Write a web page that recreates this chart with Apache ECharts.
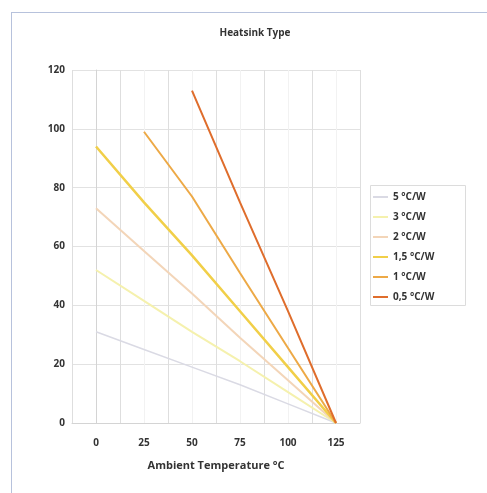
<!DOCTYPE html>
<html>
<head>
<meta charset="utf-8">
<script src="https://cdn.jsdelivr.net/npm/echarts@6/dist/echarts.min.js"></script>
<style>
html,body{margin:0;padding:0;background:#fff;}
#chart{width:487px;height:493px;}
</style>
</head>
<body>
<div id="chart"></div>
<script>
// Data
const temps = [0, 25, 50, 75, 100, 125];
const seriesNames = ['5 °C/W', '3 °C/W', '2 °C/W', '1,5 °C/W', '1 °C/W', '0,5 °C/W'];
const r5  = [31, 25, 19, 13, 6.5, 0];
const r3  = [52, 41.5, 31, 21, 10.5, 0];
const r2  = [73, 58.5, 44, 29, 14.5, 0];
const r15 = [94, 75, 57, 38, 19, 0];
const r1  = [null, 99, 77, 51, 25.5, 0];
const r05 = [null, null, 113, 75, 38, 0];
const xTickLabels = [0, 25, 50, 75, 100, 125];
const yTickLabels = [0, 20, 40, 60, 80, 100, 120];

const values = [r5, r3, r2, r15, r1, r05];
const colors = ['#dadae4', '#f5f1ad', '#f3d5b8', '#f1cf48', '#eda946', '#df6d2c'];
const widths = [1.5, 2, 2, 2.5, 2, 2];
const font = 'Open Sans';

const chart = echarts.init(document.getElementById('chart'), null, {renderer: 'canvas'});
chart.setOption({
  animation: false,
  backgroundColor: '#fff',
  title: {
    text: 'Heatsink Type',
    left: 250, top: 23, textAlign: 'center',
    textStyle: {fontFamily: font, fontSize: 10, fontWeight: 'bold', color: '#333'}
  },
  graphic: [
    {type: 'line', shape: {x1: 11.5, y1: 12, x2: 11.5, y2: 493}, style: {stroke: '#b7c2dc', lineWidth: 1}},
    {type: 'line', shape: {x1: 11, y1: 12.5, x2: 487, y2: 12.5}, style: {stroke: '#b7c2dc', lineWidth: 1}},
    {type: 'rect', shape: {x: 370.5, y: 185.5, width: 95, height: 120}, style: {fill: 'none', stroke: '#dcdcdc', lineWidth: 1}}
  ],
  legend: {
    orient: 'vertical',
    left: 373, top: 191,
    padding: 0,
    itemGap: 8,
    itemWidth: 15, itemHeight: 2,
    icon: 'rect',
    data: seriesNames,
    textStyle: {fontFamily: font, fontSize: 10, fontWeight: 'bold', color: '#333', lineHeight: 12}
  },
  grid: {left: 72, right: 127, top: 70, bottom: 70},
  xAxis: {
    type: 'value',
    min: -12.5, max: 137.5, interval: 12.5,
    name: 'Ambient Temperature °C',
    nameLocation: 'middle', nameGap: 37,
    nameTextStyle: {fontFamily: font, fontSize: 11, fontWeight: 'bold', color: '#333'},
    axisLine: {show: true, lineStyle: {color: '#d4d4d4', width: 1}},
    axisTick: {show: false},
    axisLabel: {
      margin: 15,
      fontFamily: font, fontSize: 10, fontWeight: 'bold', color: '#333',
      formatter: v => (xTickLabels.indexOf(v) >= 0 ? String(v) : '')
    },
    splitLine: {show: true, lineStyle: {color: ['#dedede', '#f2f2f2'], width: 1}}
  },
  yAxis: {
    type: 'value',
    min: yTickLabels[0], max: yTickLabels[yTickLabels.length - 1], interval: 20,
    axisLine: {show: true, lineStyle: {color: '#d4d4d4', width: 1}},
    axisTick: {show: false},
    axisLabel: {margin: 7, fontFamily: font, fontSize: 10, fontWeight: 'bold', color: '#333'},
    splitLine: {show: true, lineStyle: {color: '#e2e2e2', width: 1}}
  },
  series: seriesNames.map((name, i) => ({
    name: name,
    type: 'line',
    showSymbol: false,
    symbol: 'none',
    color: colors[i],
    lineStyle: {color: colors[i], width: widths[i]},
    data: temps.map((t, j) => [t, values[i][j]])
  }))
});
</script>
</body>
</html>
